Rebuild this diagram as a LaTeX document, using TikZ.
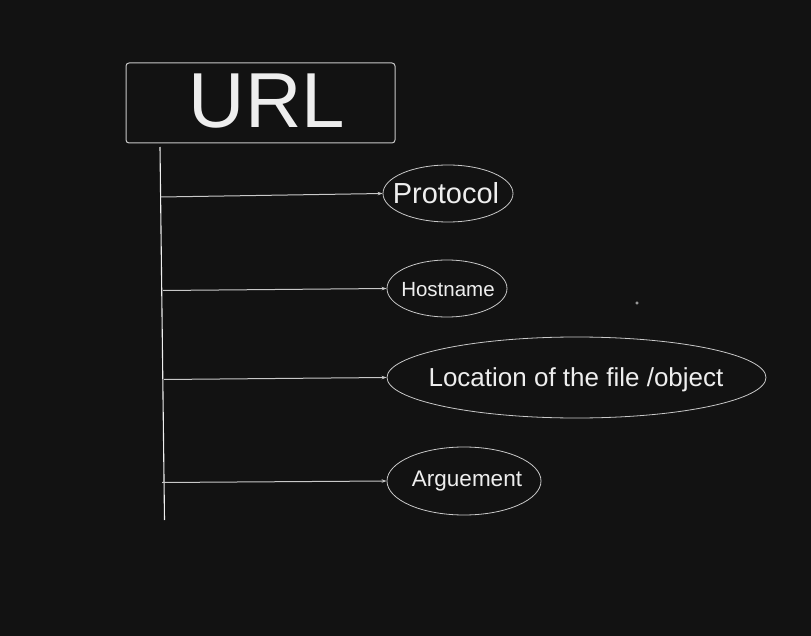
\documentclass[tikz,border=0pt]{standalone}
\usepackage{fontspec}
\setmainfont{Liberation Sans}
\usetikzlibrary{shapes.geometric,arrows.meta}
\definecolor{bgdark}{HTML}{121212}
\definecolor{inkwhite}{HTML}{EEEEEE}
\definecolor{edgegrey}{HTML}{C8C8C8}
\tikzset{
  part/.style={ellipse, draw=edgegrey, line width=0.8pt, inner sep=0pt},
  partlabel/.style={text=inkwhite, inner sep=0pt},
  branch/.style={draw=edgegrey, line width=1pt, -{Stealth[length=5pt,width=3.5pt]}}
}
\begin{document}
\begin{tikzpicture}[x=1pt,y=-1pt]

    % Background
    \fill[bgdark] (0,0) rectangle (811,636);
    \useasboundingbox (0,0) rectangle (811,636);

    % Title box
    \node[draw=edgegrey, line width=1pt, rounded corners=3pt, minimum width=269pt, minimum height=80pt, inner sep=0pt] (urlbox) at (260.5,103) {};
    \node[text=inkwhite, font=\fontsize{78}{80}\selectfont] (urltext) at (267,101) {URL};

    % Trunk line
    \coordinate (top) at (160,147);
    \coordinate (bottom) at (164.5,520);
    \draw[inkwhite, line width=1.1pt] (top) -- (bottom);

    % Parts of the URL
    \node[part, minimum width=130pt, minimum height=57pt] (proto) at (448,193.5) {};
    \node[partlabel, font=\fontsize{29}{30}\selectfont] (protolabel) at (446,193) {Protocol};
    \node[part, minimum width=120pt, minimum height=57pt] (host) at (447,288.5) {};
    \node[partlabel, font=\fontsize{20.5}{22}\selectfont] (hostlabel) at (448,290) {Hostname};
    \node[part, minimum width=379pt, minimum height=81pt] (loc) at (576.5,377.5) {};
    \node[partlabel, font=\fontsize{26}{28}\selectfont] (loclabel) at (576,380) {Location of the file /object};
    \node[part, minimum width=154pt, minimum height=68pt] (arg) at (464,481) {};
    \node[partlabel, font=\fontsize{22.5}{24}\selectfont] (arglabel) at (467,481.5) {Arguement};

    % Branches
    \coordinate (b1) at (161,197);
    \coordinate (b2) at (163,290.5);
    \coordinate (b3) at (164,379.5);
    \coordinate (b4) at (162,482.5);
    \draw[branch] (b1) -- (proto.west);
    \draw[branch] (b2) -- (host.west);
    \draw[branch] (b3) -- (loc.west);
    \draw[branch] (b4) -- (arg.west);

    % Stray dot
    \draw[edgegrey, line width=0.5pt] (637,303) circle (1.2pt);
\end{tikzpicture}
\end{document}
